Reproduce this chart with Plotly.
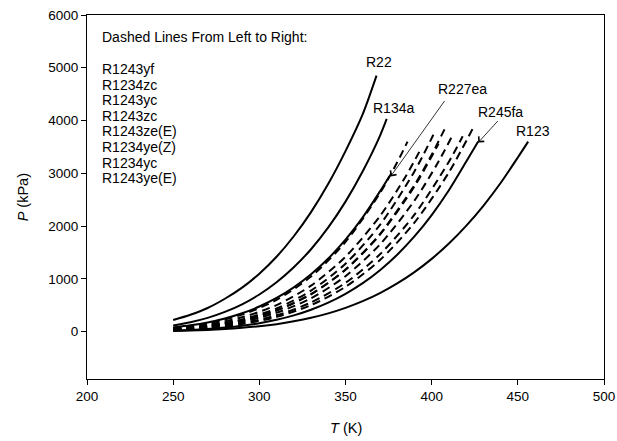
import plotly.graph_objects as go

# Saturation pressure curves, T in K, P in kPa
# Solid reference refrigerants
r22_T = [250, 260, 270, 280, 290, 300, 310, 320, 330, 340, 350, 360, 368]
r22_P = [217, 318, 446, 621, 832, 1097, 1418, 1806, 2263, 2800, 3420, 4120, 4850]

r134a_T = [250, 260, 270, 280, 290, 300, 310, 320, 330, 340, 350, 360, 370, 373.9]
r134a_P = [116, 177, 259, 372, 516, 702, 934, 1219, 1560, 1973, 2462, 3038, 3710, 4030]

r227ea_T = [250, 260, 270, 280, 290, 300, 310, 320, 330, 340, 350, 360, 370, 375.5]
r227ea_P = [77, 117, 172, 247, 346, 474, 636, 837, 1085, 1384, 1741, 2164, 2656, 2945]

r245fa_T = [250, 260, 270, 280, 290, 300, 310, 320, 330, 340, 350, 360, 370, 380, 390, 400, 410, 420, 427]
r245fa_P = [19, 31, 49, 75, 110, 158, 223, 306, 413, 547, 714, 917, 1163, 1456, 1803, 2208, 2677, 3217, 3600]

r123_T = [250, 260, 270, 280, 290, 300, 310, 320, 330, 340, 350, 360, 370, 380, 390, 400, 410, 420, 430, 440, 450, 456]
r123_P = [12, 20, 31, 47, 70, 100, 140, 193, 260, 344, 448, 575, 728, 911, 1126, 1377, 1668, 2003, 2384, 2816, 3300, 3600]

# Dashed fluorinated olefins, ordered from left to right
dashed_names = ["R1243yf", "R1234zc", "R1243yc", "R1243zc",
                "R1243ze(E)", "R1234ye(Z)", "R1234yc", "R1243ye(E)"]
dashed_T = [
    [250, 270, 290, 310, 330, 350, 370, 380, 386],
    [250, 270, 290, 310, 330, 350, 370, 385, 394],
    [250, 270, 290, 310, 330, 350, 370, 390, 401],
    [250, 270, 290, 310, 330, 350, 370, 390, 404],
    [250, 270, 290, 310, 330, 350, 370, 390, 400, 408],
    [250, 270, 290, 310, 330, 350, 370, 390, 403, 411.5],
    [250, 270, 290, 310, 330, 350, 370, 390, 410, 418],
    [250, 270, 290, 310, 330, 350, 370, 390, 410, 425],
]
dashed_P = [
    [68, 156, 321, 600, 1042, 1698, 2626, 3207, 3600],
    [57, 131, 269, 502, 870, 1418, 2189, 2944, 3480],
    [45, 108, 228, 437, 775, 1286, 2022, 3035, 3730],
    [42, 100, 210, 401, 709, 1173, 1838, 2750, 3560],
    [41, 98, 207, 398, 706, 1174, 1848, 2777, 3351, 3870],
    [36, 87, 184, 355, 630, 1049, 1651, 2482, 3165, 3680],
    [30, 74, 158, 307, 551, 923, 1464, 2215, 3219, 3700],
    [26, 65, 141, 277, 501, 848, 1355, 2064, 3018, 3920],
]

# Curve labels: (text, T, P)
label_text = ["R22", "R134a", "R227ea", "R245fa", "R123"]
label_T = [369.4, 378.1, 417.8, 439.8, 459.0]
label_P = [5110, 4240, 4590, 4155, 3805]

x_ticks = [200, 250, 300, 350, 400, 450, 500]
y_ticks = [0, 1000, 2000, 3000, 4000, 5000, 6000]

FONT = "Arial, Liberation Sans, sans-serif"

fig = go.Figure()

solid = [(r22_T, r22_P), (r134a_T, r134a_P), (r227ea_T, r227ea_P),
         (r245fa_T, r245fa_P), (r123_T, r123_P)]
for T, P in solid:
    fig.add_trace(go.Scatter(x=T, y=P, mode="lines",
                             line=dict(color="black", width=2, shape="spline", smoothing=0.8),
                             showlegend=False, hoverinfo="skip"))

for T, P in zip(dashed_T, dashed_P):
    fig.add_trace(go.Scatter(x=T, y=P, mode="lines",
                             line=dict(color="black", width=2, shape="spline", smoothing=0.8,
                                       dash="8px,5px"),
                             showlegend=False, hoverinfo="skip"))

annotations = []
for txt, t, p in zip(label_text, label_T, label_P):
    annotations.append(dict(x=t, y=p, xref="x", yref="y", text=txt,
                            showarrow=False, font=dict(family=FONT, size=14, color="black")))

# Pointer arrows for R227ea and R245fa end points
for t, p, ax, ay in [(376.2, 2940, 55, -77), (427.0, 3583, 21, -23)]:
    annotations.append(dict(x=t, y=p, xref="x", yref="y", text="",
                            showarrow=True, arrowhead=4, arrowsize=1.8,
                            arrowwidth=0.8, arrowcolor="black",
                            ax=ax, ay=ay, axref="pixel", ayref="pixel"))

# Pixel-to-paper helpers for the plot frame
plot_left, plot_right = 86.7, 604.3
plot_top, plot_bottom = 15.0, 379.3
def paper_x(px):
    return (px - plot_left) / (plot_right - plot_left)
def paper_y(py):
    return 1 - (py - plot_top) / (plot_bottom - plot_top)

# Text block naming the dashed curves
annotations.append(dict(x=paper_x(100), y=paper_y(37), xref="paper", yref="paper",
                        text="Dashed Lines From Left to Right:", showarrow=False,
                        xanchor="left", yanchor="middle",
                        font=dict(family=FONT, size=14, color="black")))
for i, name in enumerate(dashed_names):
    annotations.append(dict(x=paper_x(100), y=paper_y(69.3 + i * 15.57), xref="paper", yref="paper",
                            text=name, showarrow=False, xanchor="left", yanchor="middle",
                            font=dict(family=FONT, size=14, color="black")))

# Axis titles
annotations.append(dict(x=0.5, y=paper_y(428), xref="paper", yref="paper",
                        text="<i>T</i> (K)", showarrow=False, xanchor="center", yanchor="middle",
                        font=dict(family=FONT, size=14.5, color="black")))
annotations.append(dict(x=paper_x(23), y=0.5, xref="paper", yref="paper",
                        text="<i>P</i> (kPa)", showarrow=False, textangle=-90,
                        xanchor="center", yanchor="middle",
                        font=dict(family=FONT, size=14.5, color="black")))

fig.update_layout(
    width=617, height=441,
    margin=dict(l=87, r=13, t=15, b=62, autoexpand=False),
    paper_bgcolor="white", plot_bgcolor="white",
    font=dict(family=FONT, size=13.5, color="black"),
    annotations=annotations,
    xaxis=dict(range=[200, 500], tickvals=x_ticks, ticks="outside", ticklen=5,
               tickwidth=1, tickcolor="black", showline=True, linecolor="black",
               linewidth=1, mirror=True, showgrid=False, zeroline=False,
               automargin=False),
    yaxis=dict(range=[-900, 6000], tickvals=y_ticks, ticks="outside", ticklen=5,
               tickwidth=1, tickcolor="black", showline=True, linecolor="black",
               linewidth=1, mirror=True, showgrid=False, zeroline=False,
               automargin=False),
)

fig.write_html("out.html")
